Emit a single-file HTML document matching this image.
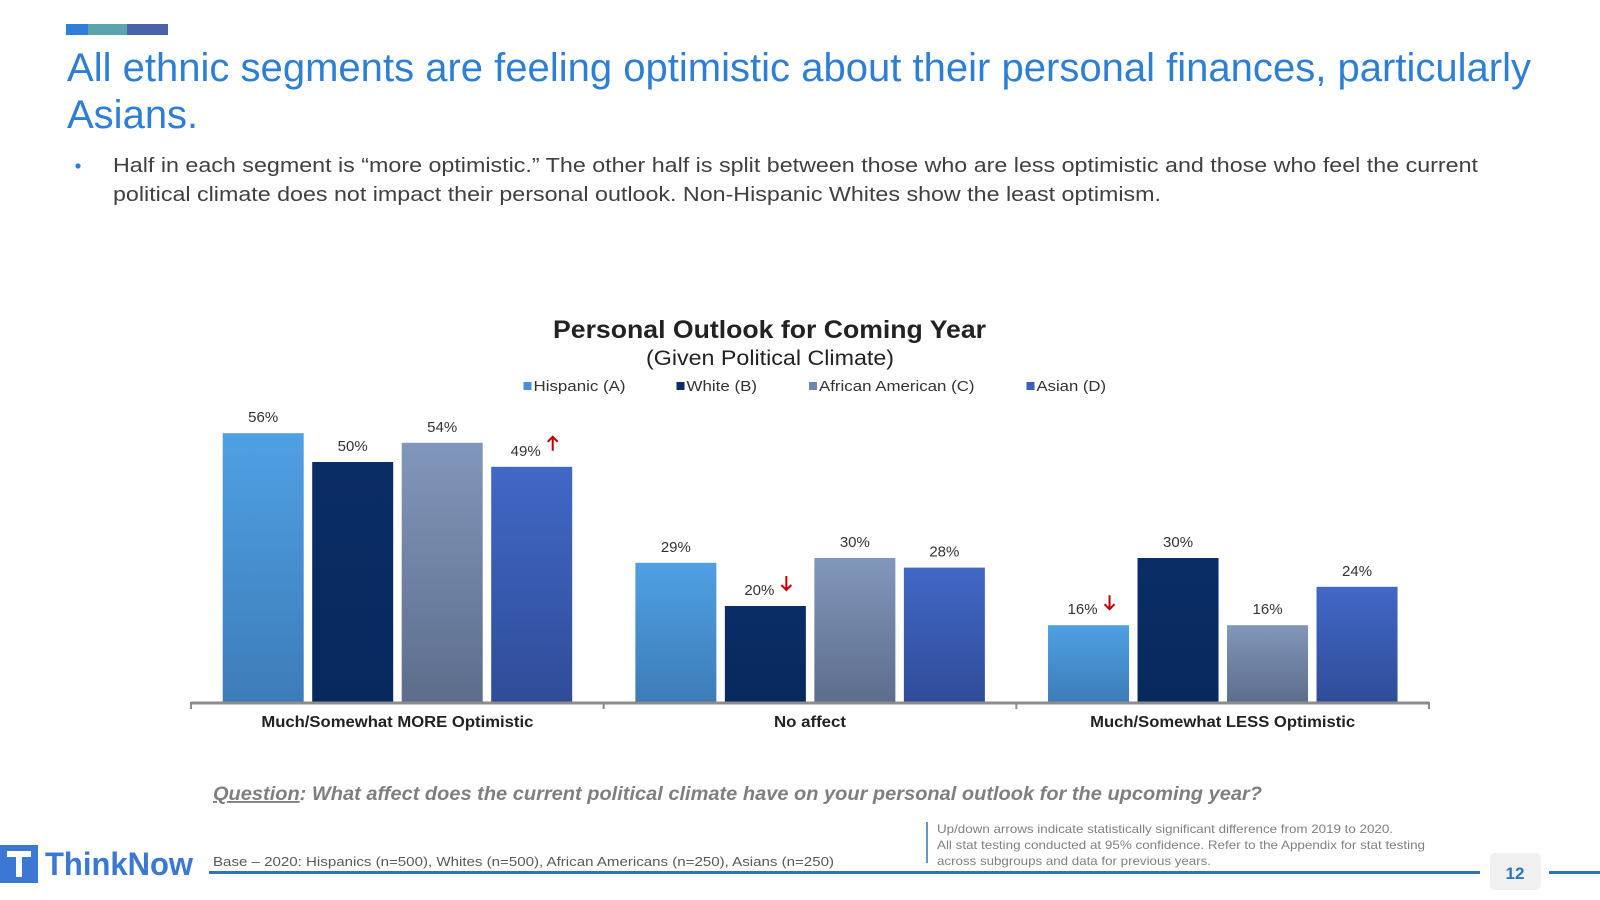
<!DOCTYPE html>
<html><head><meta charset="utf-8"><style>
html,body{margin:0;padding:0;background:#fff;}
svg{display:block;font-family:"Liberation Sans",Arial,sans-serif;}
</style></head><body>
<svg id="page" width="1600" height="900" viewBox="0 0 1600 900">
<defs>
<linearGradient id="gA" x1="0" y1="0" x2="0" y2="1"><stop offset="0" stop-color="#4fa0e4"/><stop offset="1" stop-color="#3d7cb8"/></linearGradient>
<linearGradient id="gB" x1="0" y1="0" x2="0" y2="1"><stop offset="0" stop-color="#0b2d66"/><stop offset="1" stop-color="#08295e"/></linearGradient>
<linearGradient id="gC" x1="0" y1="0" x2="0" y2="1"><stop offset="0" stop-color="#8197bb"/><stop offset="1" stop-color="#5d6d8c"/></linearGradient>
<linearGradient id="gD" x1="0" y1="0" x2="0" y2="1"><stop offset="0" stop-color="#4168c6"/><stop offset="1" stop-color="#2f4c98"/></linearGradient>
</defs>
<g>
<rect x="66" y="24" width="22" height="11" fill="#2e7fd9"/>
<rect x="88" y="24" width="39" height="11" fill="#5ba3ad"/>
<rect x="127" y="24" width="41" height="11" fill="#4a62a8"/>
</g>
<g fill="#2e7fd3" font-size="40">
<text x="67" y="81" textLength="1464" lengthAdjust="spacingAndGlyphs">All ethnic segments are feeling optimistic about their personal finances, particularly</text>
<text x="67" y="128">Asians.</text>
</g>
<g fill="#404040" font-size="20">
<circle cx="78" cy="166" r="2.6" fill="#2e7fd3"/>
<text x="113" y="172" textLength="1365" lengthAdjust="spacingAndGlyphs">Half in each segment is “more optimistic.” The other half is split between those who are less optimistic and those who feel the current</text>
<text x="113" y="201" textLength="1048" lengthAdjust="spacingAndGlyphs">political climate does not impact their personal outlook. Non-Hispanic Whites show the least optimism.</text>
</g>
<text x="553" y="338" font-size="25" font-weight="bold" fill="#222" textLength="433" lengthAdjust="spacingAndGlyphs">Personal Outlook for Coming Year</text>
<text x="646" y="365" font-size="21" fill="#222" textLength="248" lengthAdjust="spacingAndGlyphs">(Given Political Climate)</text>
<g id="legend"></g>
<g id="chart"></g>
<g font-size="19" font-weight="bold" font-style="italic" fill="#7f7f7f">
<text x="213" y="800" textLength="1049" lengthAdjust="spacingAndGlyphs"><tspan text-decoration="underline">Question</tspan>: What affect does the current political climate have on your personal outlook for the upcoming year?</text>
</g>
<text x="213" y="866" font-size="13" fill="#595959" textLength="621" lengthAdjust="spacingAndGlyphs">Base – 2020: Hispanics (n=500), Whites (n=500), African Americans (n=250), Asians (n=250)</text>
<line x1="927" y1="822" x2="927" y2="863" stroke="#2e75b6" stroke-width="1.5"/>
<g font-size="12" fill="#808080">
<text x="937" y="833" textLength="456" lengthAdjust="spacingAndGlyphs">Up/down arrows indicate statistically significant difference from 2019 to 2020.</text>
<text x="937" y="849" textLength="488" lengthAdjust="spacingAndGlyphs">All stat testing conducted at 95% confidence. Refer to the Appendix for stat testing</text>
<text x="937" y="865" textLength="274" lengthAdjust="spacingAndGlyphs">across subgroups and data for previous years.</text>
</g>
<rect x="209" y="871" width="1271" height="3" fill="#2e75b6"/>
<rect x="1549" y="871" width="51" height="3" fill="#2e75b6"/>
<rect x="1490" y="853" width="51" height="37" rx="5" fill="#f0f0f0"/>
<text x="1515" y="879" text-anchor="middle" font-size="17" font-weight="bold" fill="#2e75b6">12</text>
<g>
<rect x="0" y="845" width="38" height="38" fill="#3a78d4"/>
<rect x="7" y="851" width="24" height="6" fill="#fff"/>
<rect x="16" y="851" width="6" height="26" fill="#fff"/>
<rect x="12" y="857" width="3" height="3" fill="#3a78d4"/>
<rect x="23" y="857" width="3" height="3" fill="#3a78d4"/>
<text x="45" y="875" font-size="32" font-weight="bold" fill="#3a78d4" textLength="148" lengthAdjust="spacingAndGlyphs">ThinkNow</text>
</g>
</svg>
<script>
const categories = ["Much/Somewhat MORE Optimistic", "No affect", "Much/Somewhat LESS Optimistic"];
const seriesNames = ["Hispanic (A)", "White (B)", "African American (C)", "Asian (D)"];
const hispanic = [56, 29, 16];
const white = [50, 20, 30];
const africanAmerican = [54, 30, 16];
const asian = [49, 28, 24];
const hispanicSig = ["", "", "down"];
const whiteSig = ["", "down", ""];
const africanAmericanSig = ["", "", ""];
const asianSig = ["up", "", ""];

const NS = "http://www.w3.org/2000/svg";
const series = [hispanic, white, africanAmerican, asian];
const sigs = [hispanicSig, whiteSig, africanAmericanSig, asianSig];
const fills = ["url(#gA)", "url(#gB)", "url(#gC)", "url(#gD)"];
const legendFills = ["#4a90d9", "#0b2d66", "#7186a8", "#3a5fbd"];
const catLabelW = [272, 72, 265];
const axL = 191, axR = 1429, baseY = 702, pxPer = 4.8;
const groupW = (axR - axL) / categories.length;
const barW = 81, pitch = 89.5, inner = 31.7;
function xScale(g, s) { return axL + g * groupW + inner + s * pitch; }
function yScale(v) { return baseY - v * pxPer; }
function mk(tag, attrs, parent) {
  const e = document.createElementNS(NS, tag);
  for (const k in attrs) e.setAttribute(k, attrs[k]);
  parent.appendChild(e);
  return e;
}
const chart = document.getElementById("chart");
for (let g = 0; g < categories.length; g++) {
  for (let s = 0; s < series.length; s++) {
    const v = series[s][g];
    const x = xScale(g, s), y = yScale(v);
    const r = mk("rect", {x: x, y: y, width: barW, height: baseY - y, fill: fills[s]}, chart);
    
    
    const sig = sigs[s][g];
    const cx = x + barW / 2 - (sig ? 6 : 0);
    const t = mk("text", {x: cx, y: y - 11, "text-anchor": "middle", "font-size": "15", fill: "#333"}, chart);
    t.textContent = v + "%";
    
    
    if (sig) {
      const ax = cx + 27, top = y - 30, bot = y - 16;
      const a = mk("path", {d: sig === "up"
        ? `M${ax} ${bot} L${ax} ${top} M${ax-5} ${top+5} L${ax} ${top} L${ax+5} ${top+5}`
        : `M${ax} ${top} L${ax} ${bot} M${ax-5} ${bot-5} L${ax} ${bot} L${ax+5} ${bot-5}`,
        stroke: "#c00000", "stroke-width": "2", fill: "none"}, chart);
      
      
    }
  }
  const lbl = mk("text", {x: axL + g * groupW + groupW / 2, y: 727, "text-anchor": "middle", "font-size": "16", "font-weight": "bold", fill: "#222", textLength: catLabelW[g], lengthAdjust: "spacingAndGlyphs"}, chart);
  lbl.textContent = categories[g];
  
  
}
const axis = mk("line", {x1: axL, y1: baseY + 1, x2: axR, y2: baseY + 1, stroke: "#8c8c8c", "stroke-width": "3"}, chart);


for (let g = 0; g <= categories.length; g++) {
  const tk = mk("line", {x1: axL + g * groupW, y1: baseY, x2: axL + g * groupW, y2: baseY + 7, stroke: "#8c8c8c", "stroke-width": "2"}, chart);
  
  
}
const legend = document.getElementById("legend");
const legX = [523.5, 676.5, 809, 1026.5];
const legEnd = [625.5, 757, 974.5, 1106];
for (let s = 0; s < seriesNames.length; s++) {
  const sq = mk("rect", {x: legX[s], y: 382, width: 8, height: 8, fill: legendFills[s]}, legend);
  
  
  const t = mk("text", {x: legX[s] + 10, y: 391, "font-size": "15", fill: "#333", textLength: legEnd[s] - legX[s] - 10, lengthAdjust: "spacingAndGlyphs"}, legend);
  t.textContent = seriesNames[s];
  
  
}
</script>
</body></html>
